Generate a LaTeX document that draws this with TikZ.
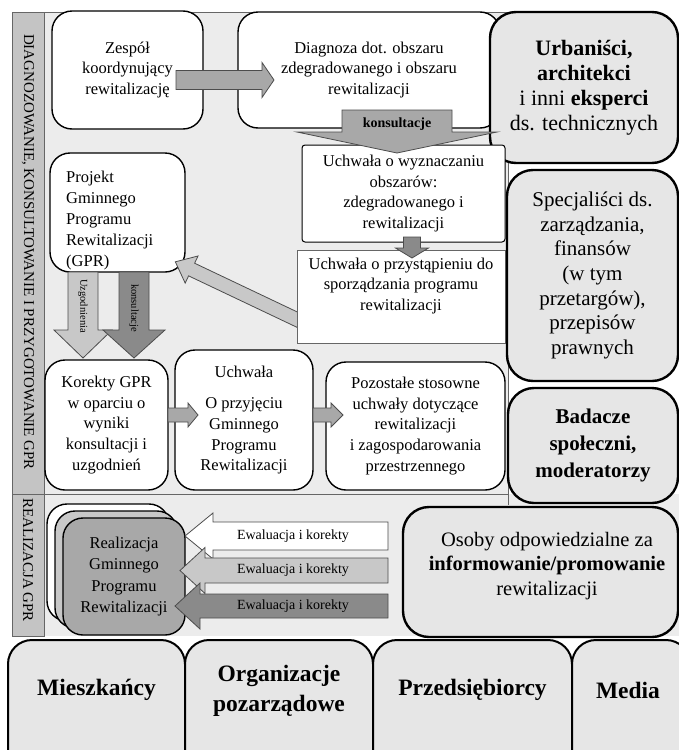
\documentclass[tikz,border=0pt]{standalone}
\usepackage{fontspec}
\setmainfont{Liberation Serif}
\usepackage{tikz}
\definecolor{bgarea}{HTML}{ECECEC}
\definecolor{stripgray}{HTML}{C4C4C4}
\definecolor{actorfill}{HTML}{E6E6E6}
\definecolor{arrlight}{HTML}{C8C8C8}
\definecolor{arrmid}{HTML}{A8A8A8}
\definecolor{arrdark}{HTML}{8A8A8A}
\newcommand{\fs}[2]{\fontsize{#1}{#2}\selectfont}
% block arrow: [style]{start}{angle}{length}{shaft half}{head half}{head length}
\newcommand{\barrow}[7][]{%
  \draw[barrow,#1,shift={#2},rotate=#3] (0,-#5) -- ({#4-#7},-#5) -- ({#4-#7},-#6) -- (#4,0)
    -- ({#4-#7},#6) -- ({#4-#7},#5) -- (0,#5) -- cycle;}
\tikzset{
  stepbox/.style={draw, line width=1.4pt, rounded corners=20pt, fill=white, align=center,
    inner sep=0pt, font=\fs{16.5}{20.7}},
  actor/.style={draw, line width=2.4pt, rounded corners=26pt, fill=actorfill, align=center,
    inner sep=0pt, font=\fs{21}{24.7}},
  people/.style={draw, line width=2pt, rounded corners=24pt, fill=actorfill, inner sep=0pt,
    minimum height=150pt},
  barrow/.style={draw=black!70, line width=0.8pt, fill=arrmid},
  txt/.style={inner sep=0pt, align=center, font=\fs{16.5}{20.7}}
}

\begin{document}
\begin{tikzpicture}[x=1pt, y=-1pt]
    \useasboundingbox (0,0) rectangle (679,750);
    \clip (0,0) rectangle (679,750);
    \fill[bgarea] (44,12) rectangle (508,494);
    \fill[bgarea] (44,494) rectangle (679,636);
    \draw[black!60, fill=stripgray] (12,12) rectangle (44,494);
    \draw[black!60, fill=stripgray] (12,494) rectangle (44,636);
    \draw[black!60] (44,12) -- (508,12) -- (508,505);
    \draw[black!60] (44,494) -- (508,494);
    \node[rotate=-90, font=\fs{15}{17}] (lab1) at (28,252) {DIAGNOZOWANIE, KONSULTOWANIE I PRZYGOTOWANIE GPR};
    \node[rotate=-90, font=\fs{15}{17}] (lab2) at (28,560) {REALIZACJA GPR};

    \node[stepbox, minimum width=151pt, minimum height=118pt] (zesp) at (127.5,70) {Zespół\\koordynujący\\rewitalizację};
    \node[stepbox, minimum width=262pt, minimum height=116pt] (diag) at (369,70) {Diagnoza dot. obszaru\\zdegradowanego i obszaru\\rewitalizacji};
    \node[actor, font=\fs{22}{25}, minimum width=188pt, minimum height=151pt] (urb) at (584,87.5) {\textbf{Urbaniści,}\\\textbf{architekci}\\i inni \textbf{eksperci}\\ds. technicznych};
    \node[draw, line width=1pt, rounded corners=3pt, fill=white, minimum width=203pt, minimum height=97pt,
      align=center, font=\fs{16.5}{20.5}] (uw1) at (403.5,193.5) {Uchwała o wyznaczaniu\\obszarów:\\zdegradowanego i\\rewitalizacji};
    \node[stepbox, minimum width=135pt, minimum height=119pt] (proj) at (117.5,212.5) {};
    \begin{scope}
      \clip (50,153) rectangle (185,270);
      \node[txt, anchor=west, align=left, font=\fs{16.5}{21}] (projtxt) at (66,221) {Projekt\\Gminnego\\Programu\\Rewitalizacji\\(GPR)};
    \end{scope}
    \barrow[fill=arrlight]{(300,321)}{154.6}{138}{7}{15}{18}
    \node[draw=black!60, line width=0.8pt, fill=white, minimum width=208pt, minimum height=93pt] (uw2) at (401,296.5) {};
    \node[txt] (uw2txt) at (401,286) {Uchwała o przystąpieniu do\\sporządzania programu\\rewitalizacji};

    \barrow{(176,80)}{0}{98}{9.5}{17.5}{12}
    \barrow{(397,110)}{-90}{43}{55}{100}{21}
    \node[font=\bfseries\fs{14}{16}] (kons1) at (397,124) {konsultacje};
    \barrow[fill=arrdark]{(412,237)}{-90}{21}{8.5}{16.5}{10}

    \node[actor, minimum width=171pt, minimum height=211pt] (spec) at (592.5,275.5) {Specjaliści ds.\\zarządzania,\\finansów\\(w tym\\przetargów),\\przepisów\\prawnych};
    \node[actor, font=\bfseries\fs{21}{27}, minimum width=170pt, minimum height=115pt] (bad) at (593,445.5) {Badacze\\społeczni,\\moderatorzy};

    \barrow[fill=arrlight]{(83,272)}{-90}{86}{15}{29}{28}
    \node[rotate=-90, font=\fs{10.5}{12}] (uzg) at (83,306) {Uzgodnienia};
    \barrow[fill=arrdark]{(134,272)}{-90}{86}{15}{31}{28}
    \node[rotate=-90, font=\fs{10.5}{12}] (kons2) at (134,308) {konsultacje};

    \node[stepbox, minimum width=123pt, minimum height=130pt] (kor) at (106.5,425) {Korekty GPR\\w oparciu o\\wyniki\\konsultacji i\\uzgodnień};
    \node[stepbox, minimum width=138pt, minimum height=140pt] (uchw) at (244,420) {Uchwała\\[11pt]O przyjęciu\\Gminnego\\Programu\\Rewitalizacji};
    \node[stepbox, minimum width=179pt, minimum height=128pt] (poz) at (415.5,426) {Pozostałe stosowne\\uchwały dotyczące\\rewitalizacji\\i zagospodarowania\\przestrzennego};
    \barrow{(168,415)}{0}{30}{7}{12}{10}
    \barrow{(313,415)}{0}{30}{7}{12}{12}

    \node[stepbox, minimum width=122pt, minimum height=117pt] (real3) at (108,562.5) {};
    \node[stepbox, fill=arrlight, minimum width=122pt, minimum height=117pt] (real2) at (116,569.5) {};
    \node[stepbox, fill=arrmid, font=\fs{16.5}{21.3}, minimum width=122pt, minimum height=117pt] (real) at (124,576.5) {Realizacja\\Gminnego\\Programu\\Rewitalizacji};
    \barrow[fill=white]{(388,536)}{180}{203}{14}{23}{28}
    \barrow[fill=arrlight]{(388,570.5)}{180}{208}{12.5}{23}{25}
    \barrow[fill=arrdark]{(388,606)}{180}{213}{12}{23}{25}
    \node[font=\fs{14}{16}] (ev1) at (293,536) {Ewaluacja i korekty};
    \node[font=\fs{14}{16}] (ev2) at (293,570.5) {Ewaluacja i korekty};
    \node[font=\fs{14}{16}] (ev3) at (293,606) {Ewaluacja i korekty};

    \node[actor, minimum width=275pt, minimum height=130pt] (oso) at (540.5,572) {};
    \node[txt, font=\fs{20.5}{24.7}] (osotxt) at (547,566) {Osoby odpowiedzialne za\\\textbf{informowanie/promowanie}\\rewitalizacji};

    \node[people, minimum width=177pt] (mies) at (96.5,715) {};
    \node[people, minimum width=188pt] (org) at (279,715) {};
    \node[people, minimum width=199pt] (prz) at (472.5,715) {};
    \node[people, minimum width=118pt] (med) at (631,715) {};
    \node[font=\bfseries\fs{23.5}{30}] (miestxt) at (96.5,690) {Mieszkańcy};
    \node[font=\bfseries\fs{23.5}{30}, align=center] (orgtxt) at (279,691) {Organizacje\\pozarządowe};
    \node[font=\bfseries\fs{23.5}{30}] (prztxt) at (472.5,690) {Przedsiębiorcy};
    \node[font=\bfseries\fs{23.5}{30}] (medtxt) at (628,690) {Media};
\end{tikzpicture}
\end{document}
